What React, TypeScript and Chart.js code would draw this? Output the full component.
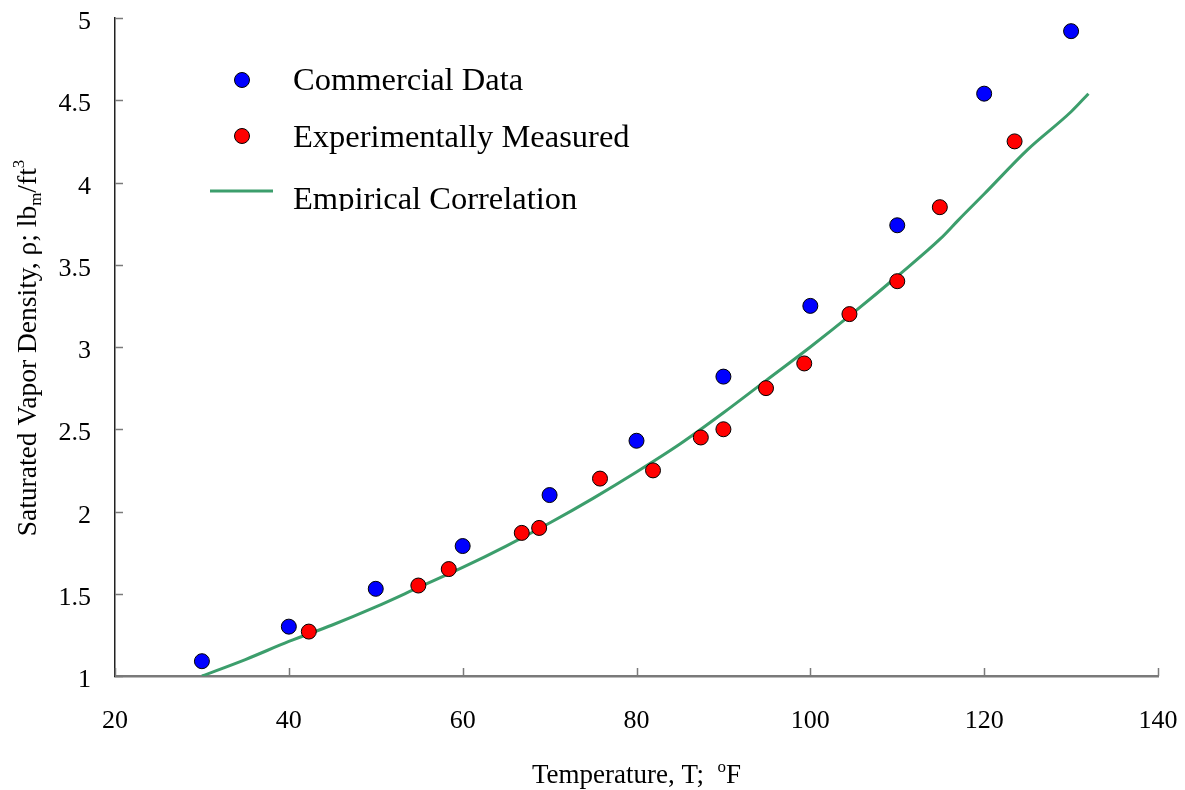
import React, { useEffect, useRef } from "react";
import { Chart, registerables } from "chart.js";

Chart.register(...registerables);

const commercialT = [30, 40, 50, 60, 70, 80, 90, 100, 110, 120, 130];
const commercialRho = [1.09, 1.3, 1.53, 1.79, 2.1, 2.43, 2.82, 3.25, 3.74, 4.54, 4.92];

const experimentalT = [42.3, 54.9, 58.4, 66.8, 68.8, 75.8, 81.9, 87.4, 90.0, 94.9, 99.3, 104.5, 110.0, 114.9, 123.5];
const experimentalRho = [1.27, 1.55, 1.65, 1.87, 1.9, 2.2, 2.25, 2.45, 2.5, 2.75, 2.9, 3.2, 3.4, 3.85, 4.25];

const correlationT = [30, 35, 40, 45, 50, 55, 60, 65, 70, 75, 80, 85, 90, 95, 100, 105, 110, 115, 117, 120, 125, 130, 132];
const correlationRho = [1.0, 1.1, 1.21, 1.31, 1.42, 1.54, 1.66, 1.79, 1.93, 2.08, 2.24, 2.41, 2.6, 2.8, 3.0, 3.21, 3.43, 3.66, 3.77, 3.93, 4.2, 4.43, 4.54];

const seriesNames = ["Commercial Data", "Experimentally Measured", "Empirical Correlation"];
const xTickValues = [20, 40, 60, 80, 100, 120, 140];
const yTickValues = [1, 1.5, 2, 2.5, 3, 3.5, 4, 4.5, 5];
const xTickLabels = ["20", "40", "60", "80", "100", "120", "140"];
const yTickLabels = ["1", "1.5", "2", "2.5", "3", "3.5", "4", "4.5", "5"];

const FONT = "'Liberation Serif', 'Times New Roman', serif";
const BLUE = "#0000ff";
const RED = "#ff0000";
const GREEN = "#3c9e6c";
const AXIS_GRAY = "#7a7a7a";

const toXY = (xs: number[], ys: number[]) => xs.map((x, i) => ({ x, y: ys[i] }));

function drawRich(ctx: CanvasRenderingContext2D, parts: { t: string; s?: "sub" | "sup" }[], size: number) {
  const small = Math.round(size * 0.62);
  let total = 0;
  const widths = parts.map((p) => {
    ctx.font = `${p.s ? small : size}px ${FONT}`;
    const w = ctx.measureText(p.t).width;
    total += w;
    return w;
  });
  let x = -total / 2;
  parts.forEach((p, i) => {
    ctx.font = `${p.s ? small : size}px ${FONT}`;
    const dy = p.s === "sub" ? size * 0.18 : p.s === "sup" ? -size * 0.42 : 0;
    ctx.fillText(p.t, x, dy);
    x += widths[i];
  });
}

const customPlugin = {
  id: "custom",
  afterDraw(chart: any) {
    const ctx: CanvasRenderingContext2D = chart.ctx;
    const area = chart.chartArea;
    const xs = chart.scales.x;
    const ys = chart.scales.y;
    ctx.save();
    ctx.strokeStyle = AXIS_GRAY;
    ctx.lineWidth = 1.5;
    xTickValues.forEach((v) => {
      const px = Math.round(xs.getPixelForValue(v)) + 0.5;
      ctx.beginPath();
      ctx.moveTo(px, area.bottom);
      ctx.lineTo(px, area.bottom - 8);
      ctx.stroke();
    });
    yTickValues.forEach((v) => {
      const py = Math.round(ys.getPixelForValue(v)) + 0.5;
      ctx.beginPath();
      ctx.moveTo(area.left, py);
      ctx.lineTo(area.left + 8, py);
      ctx.stroke();
    });

    ctx.fillStyle = "#000";
    ctx.font = `26px ${FONT}`;
    ctx.textBaseline = "alphabetic";
    ctx.textAlign = "center";
    xTickValues.forEach((v, i) => {
      ctx.fillText(xTickLabels[i], xs.getPixelForValue(v), area.bottom + 52);
    });
    ctx.textAlign = "right";
    yTickValues.forEach((v, i) => {
      ctx.fillText(yTickLabels[i], area.left - 24, ys.getPixelForValue(v) + 11);
    });

    ctx.textAlign = "left";
    ctx.save();
    ctx.translate((area.left + area.right) / 2, 783);
    drawRich(ctx, [{ t: "Temperature, T;  " }, { t: "o", s: "sup" }, { t: "F" }], 27);
    ctx.restore();

    ctx.save();
    ctx.translate(36, 348);
    ctx.rotate(-Math.PI / 2);
    drawRich(
      ctx,
      [
        { t: "Saturated Vapor Density, ρ; lb" },
        { t: "m", s: "sub" },
        { t: "/ft" },
        { t: "3", s: "sup" },
      ],
      27.5
    );
    ctx.restore();

    ctx.save();
    ctx.beginPath();
    ctx.rect(150, 40, 560, 171);
    ctx.clip();
    const mx = 242;
    const rows = [80, 136, 191];
    ctx.lineWidth = 1;
    ctx.strokeStyle = "#000";
    [BLUE, RED].forEach((c, i) => {
      ctx.beginPath();
      ctx.arc(mx, rows[i], 7.5, 0, Math.PI * 2);
      ctx.fillStyle = c;
      ctx.fill();
      ctx.stroke();
    });
    ctx.strokeStyle = GREEN;
    ctx.lineWidth = 3;
    ctx.beginPath();
    ctx.moveTo(210, rows[2]);
    ctx.lineTo(273, rows[2]);
    ctx.stroke();
    ctx.fillStyle = "#000";
    ctx.font = `32.5px ${FONT}`;
    ctx.textAlign = "left";
    const baselines = [90, 147, 209];
    seriesNames.forEach((n, i) => ctx.fillText(n, 293, baselines[i]));
    ctx.restore();

    ctx.restore();
  },
};

export default function App() {
  const ref = useRef<HTMLCanvasElement | null>(null);
  useEffect(() => {
    if (!ref.current) return;
    const chart = new Chart(ref.current, {
      type: "scatter",
      data: {
        datasets: [
          {
            label: seriesNames[0],
            data: toXY(commercialT, commercialRho),
            backgroundColor: BLUE,
            borderColor: "#000",
            borderWidth: 1,
            pointRadius: 7.5,
            order: 1,
          },
          {
            label: seriesNames[1],
            data: toXY(experimentalT, experimentalRho),
            backgroundColor: RED,
            borderColor: "#000",
            borderWidth: 1,
            pointRadius: 7.5,
            order: 2,
          },
          {
            type: "line",
            label: seriesNames[2],
            data: toXY(correlationT, correlationRho),
            borderColor: GREEN,
            borderWidth: 3,
            pointRadius: 0,
            cubicInterpolationMode: "monotone",
            fill: false,
            showLine: true,
            order: 3,
          } as any,
        ],
      },
      options: {
        animation: false,
        responsive: false,
        maintainAspectRatio: false,
        layout: { padding: { top: 18, right: 27, left: 0, bottom: 0 } },
        plugins: { legend: { display: false }, tooltip: { enabled: false } },
        scales: {
          x: {
            type: "linear",
            min: 20,
            max: 140,
            afterFit: (s: any) => {
              s.height = 790 - 676;
            },
            grid: { display: true, drawOnChartArea: false, drawTicks: false, color: "rgba(0,0,0,0)" },
            border: { display: true, color: AXIS_GRAY, width: 2.5 },
            ticks: { display: false, stepSize: 20 },
          },
          y: {
            type: "linear",
            min: 1,
            max: 5,
            afterFit: (s: any) => {
              s.width = 115;
            },
            grid: { display: true, drawOnChartArea: false, drawTicks: false, color: "rgba(0,0,0,0)" },
            border: { display: true, color: "#222", width: 1.5 },
            ticks: { display: false, stepSize: 0.5 },
          },
        },
      },
      plugins: [customPlugin],
    } as any);
    return () => chart.destroy();
  }, []);
  return (
    <div style={{ position: "fixed", left: 0, top: 0, width: 1185, height: 790, background: "#fff" }}>
      <canvas ref={ref} width={1185} height={790} style={{ width: 1185, height: 790, display: "block" }} />
    </div>
  );
}
